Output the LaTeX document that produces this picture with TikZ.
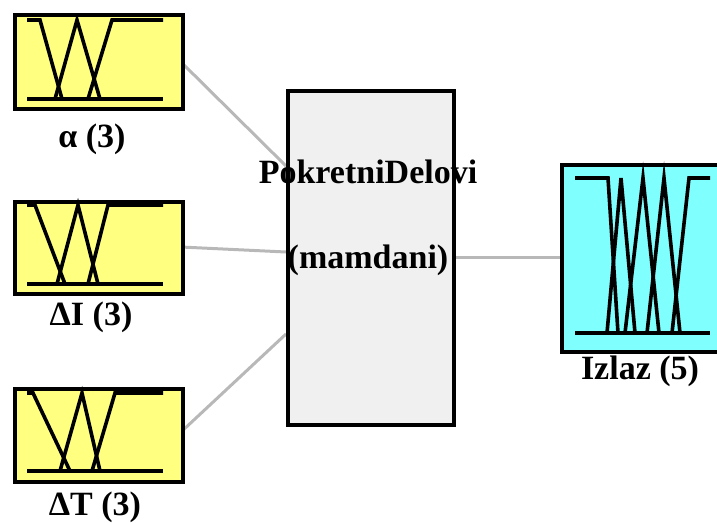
\documentclass[tikz,border=0pt]{standalone}
\usepackage{fontspec}
\setmainfont{Liberation Serif}
\definecolor{inyellow}{RGB}{255,255,128}
\definecolor{outcyan}{RGB}{128,255,255}
\definecolor{midgrey}{RGB}{240,240,240}
\definecolor{linkgrey}{RGB}{184,184,184}
\begin{document}
\begin{tikzpicture}[x=1pt,y=-1pt,
  mfbox/.style={draw=black,line width=4pt},
  mf/.style={draw=black,line width=3.6pt,line join=miter},
  link/.style={draw=linkgrey,line width=3pt},
  lbl/.style={font=\fontsize{34}{34}\selectfont\bfseries,anchor=base,inner sep=0pt}]
\useasboundingbox (0,0) rectangle (717,522);
% connectors
\coordinate (m1) at (286,166);
\coordinate (m2) at (286,252);
\coordinate (m3) at (286,334);
\coordinate (a1) at (181,62);
\coordinate (i1) at (181,247);
\coordinate (t1) at (181,432);
\coordinate (mo) at (452,257);
\coordinate (oi) at (560,257);
\draw[link] (a1) -- (m1);
\draw[link] (i1) -- (m2);
\draw[link] (t1) -- (m3);
\draw[link] (mo) -- (oi);
% input boxes
\node[mfbox,fill=inyellow,minimum width=168pt,minimum height=94pt,inner sep=0pt,anchor=north west] (a) at (13,13) {};
\node[mfbox,fill=inyellow,minimum width=168pt,minimum height=92pt,inner sep=0pt,anchor=north west] (i) at (13,200) {};
\node[mfbox,fill=inyellow,minimum width=168pt,minimum height=93pt,inner sep=0pt,anchor=north west] (t) at (13,387) {};
% middle box
\node[mfbox,fill=midgrey,minimum width=166pt,minimum height=334pt,inner sep=0pt,anchor=north west] (m) at (286,89) {};
% output box
\node[mfbox,fill=outcyan,minimum width=162pt,minimum height=187pt,inner sep=0pt,anchor=north west] (o) at (560,163) {};
% MFs alpha
\draw[mf] (27,20) -- (40,20) -- (62,99);
\draw[mf] (55,99) -- (77,20) -- (100,99);
\draw[mf] (88,99) -- (112,20) -- (163,20);
\draw[mf] (27,99) -- (163,99);
% MFs dI
\draw[mf] (27,205) -- (35,205) -- (65,284);
\draw[mf] (57,284) -- (78,205) -- (98,284);
\draw[mf] (88,284) -- (108,205) -- (163,205);
\draw[mf] (27,284) -- (163,284);
% MFs dT
\draw[mf] (27,393) -- (33,393) -- (70,471);
\draw[mf] (60,471) -- (82,393) -- (100,471);
\draw[mf] (92,471) -- (115,393) -- (163,393);
\draw[mf] (27,471) -- (163,471);
% MFs output
\draw[mf] (575,178) -- (608,178) -- (618,333);
\draw[mf] (607,333) -- (621,178) -- (635,333);
\draw[mf] (625,333) -- (643,178) -- (659,333);
\draw[mf] (647,333) -- (664,178) -- (680,333);
\draw[mf] (672,333) -- (689,178) -- (710,178);
\draw[mf] (575,333) -- (710,333);
% labels
\node[lbl] (la) at (92,147) {α (3)};
\node[lbl] (li) at (91,325) {ΔI (3)};
\node[lbl] (lt) at (95,515) {ΔT (3)};
\node[lbl] (lo) at (640,379) {Izlaz (5)};
\node[lbl] (lm1) at (368,183) {PokretniDelovi};
\node[lbl] (lm2) at (368,268) {(mamdani)};
\end{tikzpicture}
\end{document}
